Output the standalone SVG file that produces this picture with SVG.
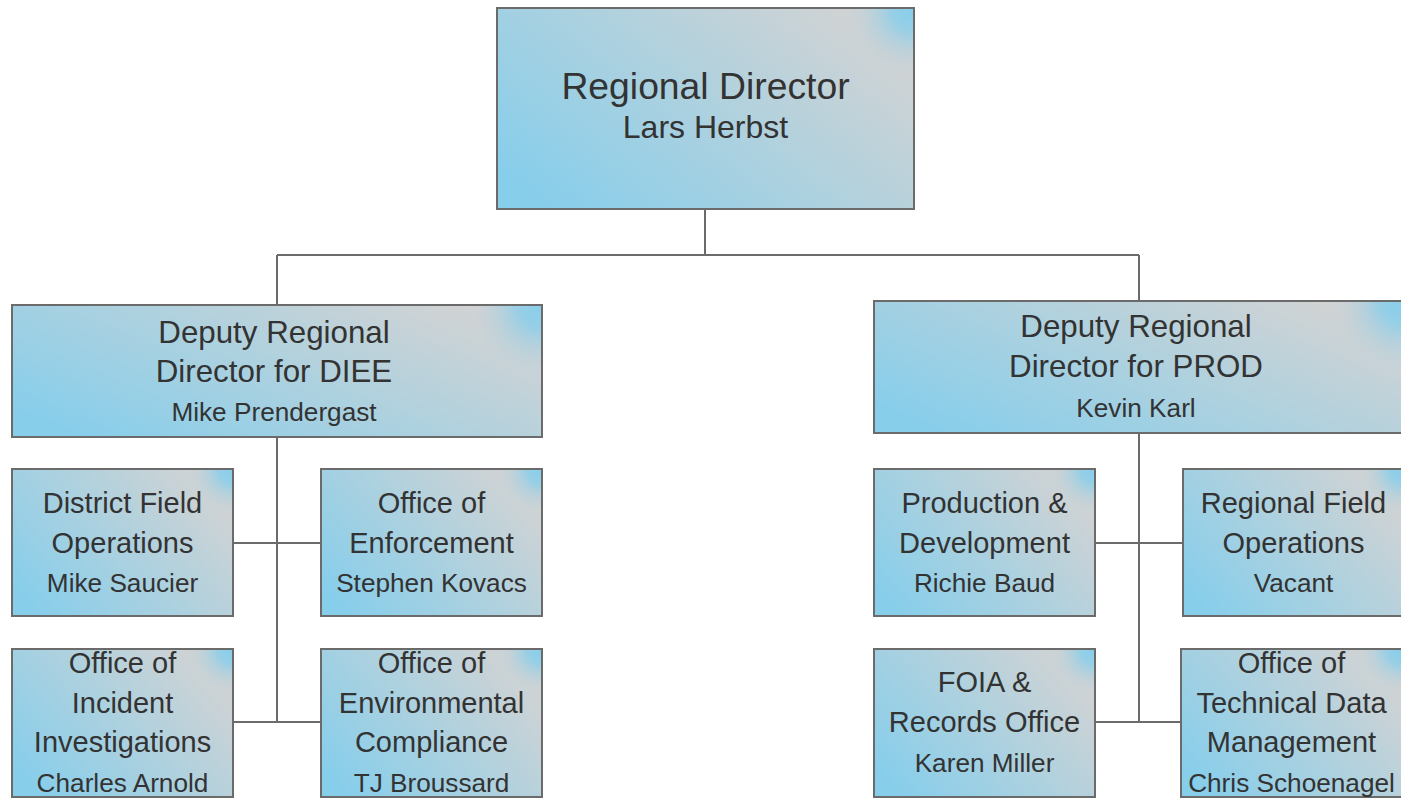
<svg xmlns="http://www.w3.org/2000/svg" width="1401" height="798" viewBox="0 0 1401 798">
<defs>
<linearGradient id="fill" gradientUnits="objectBoundingBox" x1="0" y1="0.8" x2="1" y2="0.2">
<stop offset="0" stop-color="#87CEEB"/>
<stop offset="0.5" stop-color="#ADD1DF"/>
<stop offset="1" stop-color="#D3D3D3"/>
</linearGradient>
<radialGradient id="spot" gradientUnits="userSpaceOnUse" r="60">
<stop offset="0" stop-color="#87CEEB" stop-opacity="1"/>
<stop offset="0.3" stop-color="#87CEEB" stop-opacity="0.8"/>
<stop offset="1" stop-color="#D3D3D3" stop-opacity="0"/>
</radialGradient>
<radialGradient id="spotTop" href="#spot" cx="914" cy="8" r="75"/>
<radialGradient id="spotL" href="#spot" cx="542" cy="305" r="80"/>
<radialGradient id="spotR" href="#spot" cx="1404" cy="301" r="80"/>
<radialGradient id="spotA" href="#spot" cx="233" cy="469" r="50"/>
<radialGradient id="spotB" href="#spot" cx="542" cy="469" r="50"/>
<radialGradient id="spotC" href="#spot" cx="233" cy="649" r="50"/>
<radialGradient id="spotD" href="#spot" cx="542" cy="649" r="50"/>
<radialGradient id="spotE" href="#spot" cx="1095" cy="469" r="50"/>
<radialGradient id="spotF" href="#spot" cx="1404" cy="469" r="50"/>
<radialGradient id="spotG" href="#spot" cx="1095" cy="649" r="50"/>
<radialGradient id="spotH" href="#spot" cx="1402" cy="649" r="50"/>
<style>
rect.box{fill:url(#fill)}
rect.edge{stroke:#6b6b6b;stroke-width:2}
.conn line{stroke:#6b6b6b;stroke-width:2}
text{font-family:"Liberation Sans",Arial,sans-serif;fill:#333333;text-anchor:middle}
.t0{font-size:37.3px}
.n0{font-size:32px}
.t1{font-size:31.3px}
.t2{font-size:29px}
.n{font-size:26.2px}
</style>
</defs>
<rect width="1401" height="798" fill="#ffffff"/>
<g id="connectors" class="conn">
<line x1="705" y1="209" x2="705" y2="255"/>
<line x1="277" y1="255" x2="1139" y2="255"/>
<line x1="277" y1="255" x2="277" y2="305"/>
<line x1="1139" y1="255" x2="1139" y2="301"/>
<line x1="277" y1="437" x2="277" y2="722"/>
<line x1="233" y1="543" x2="321" y2="543"/>
<line x1="233" y1="722" x2="321" y2="722"/>
<line x1="1139" y1="433" x2="1139" y2="722"/>
<line x1="1095" y1="543" x2="1183" y2="543"/>
<line x1="1095" y1="722" x2="1181" y2="722"/>
</g>
<g id="regional-director">
<rect class="box" x="497" y="8" width="417" height="201"/>
<rect class="edge" x="497" y="8" width="417" height="201" fill="url(#spotTop)"/>
<text class="t0" x="705.5" y="99">Regional Director</text>
<text class="n0" x="705.5" y="138">Lars Herbst</text>
</g>
<g id="deputy-diee">
<rect class="box" x="12" y="305" width="530" height="132"/>
<rect class="edge" x="12" y="305" width="530" height="132" fill="url(#spotL)"/>
<text class="t1" x="274" y="343">Deputy Regional</text>
<text class="t1" x="274" y="382">Director for DIEE</text>
<text class="n" x="274" y="421">Mike Prendergast</text>
</g>
<g id="deputy-prod">
<rect class="box" x="874" y="301" width="530" height="132"/>
<rect class="edge" x="874" y="301" width="530" height="132" fill="url(#spotR)"/>
<text class="t1" x="1136" y="337">Deputy Regional</text>
<text class="t1" x="1136" y="377">Director for PROD</text>
<text class="n" x="1136" y="417">Kevin Karl</text>
</g>
<g id="district-field-operations">
<rect class="box" x="12" y="469" width="221" height="147"/>
<rect class="edge" x="12" y="469" width="221" height="147" fill="url(#spotA)"/>
<text class="t2" x="122.5" y="513">District Field</text>
<text class="t2" x="122.5" y="553">Operations</text>
<text class="n" x="122.5" y="592">Mike Saucier</text>
</g>
<g id="office-of-enforcement">
<rect class="box" x="321" y="469" width="221" height="147"/>
<rect class="edge" x="321" y="469" width="221" height="147" fill="url(#spotB)"/>
<text class="t2" x="431.5" y="513">Office of</text>
<text class="t2" x="431.5" y="553">Enforcement</text>
<text class="n" x="431.5" y="592">Stephen Kovacs</text>
</g>
<g id="office-of-incident-investigations">
<rect class="box" x="12" y="649" width="221" height="148"/>
<rect class="edge" x="12" y="649" width="221" height="148" fill="url(#spotC)"/>
<text class="t2" x="122.5" y="673">Office of</text>
<text class="t2" x="122.5" y="713">Incident</text>
<text class="t2" x="122.5" y="752">Investigations</text>
<text class="n" x="122.5" y="792">Charles Arnold</text>
</g>
<g id="office-of-environmental-compliance">
<rect class="box" x="321" y="649" width="221" height="148"/>
<rect class="edge" x="321" y="649" width="221" height="148" fill="url(#spotD)"/>
<text class="t2" x="431.5" y="673">Office of</text>
<text class="t2" x="431.5" y="713">Environmental</text>
<text class="t2" x="431.5" y="752">Compliance</text>
<text class="n" x="431.5" y="792">TJ Broussard</text>
</g>
<g id="production-development">
<rect class="box" x="874" y="469" width="221" height="147"/>
<rect class="edge" x="874" y="469" width="221" height="147" fill="url(#spotE)"/>
<text class="t2" x="984.5" y="513">Production &amp;</text>
<text class="t2" x="984.5" y="553">Development</text>
<text class="n" x="984.5" y="592">Richie Baud</text>
</g>
<g id="regional-field-operations">
<rect class="box" x="1183" y="469" width="221" height="147"/>
<rect class="edge" x="1183" y="469" width="221" height="147" fill="url(#spotF)"/>
<text class="t2" x="1293.5" y="513">Regional Field</text>
<text class="t2" x="1293.5" y="553">Operations</text>
<text class="n" x="1293.5" y="592">Vacant</text>
</g>
<g id="foia-records-office">
<rect class="box" x="874" y="649" width="221" height="148"/>
<rect class="edge" x="874" y="649" width="221" height="148" fill="url(#spotG)"/>
<text class="t2" x="984.5" y="692">FOIA &amp;</text>
<text class="t2" x="984.5" y="732">Records Office</text>
<text class="n" x="984.5" y="772">Karen Miller</text>
</g>
<g id="office-of-technical-data-management">
<rect class="box" x="1181" y="649" width="221" height="148"/>
<rect class="edge" x="1181" y="649" width="221" height="148" fill="url(#spotH)"/>
<text class="t2" x="1291.5" y="673">Office of</text>
<text class="t2" x="1291.5" y="713">Technical Data</text>
<text class="t2" x="1291.5" y="752">Management</text>
<text class="n" x="1291.5" y="792">Chris Schoenagel</text>
</g>
</svg>
